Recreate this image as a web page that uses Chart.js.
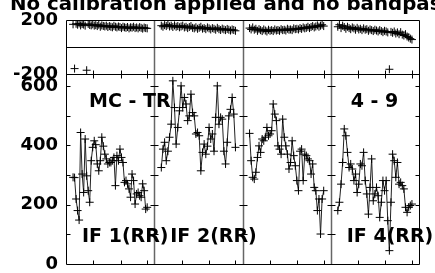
<!DOCTYPE html>
<html><head><meta charset="utf-8">
<script src="https://cdn.jsdelivr.net/npm/chart.js@4/dist/chart.umd.min.js"></script>
<style>html,body{margin:0;padding:0;background:#fff;}canvas{display:block}</style>
</head><body>
<canvas id="c" width="435" height="273"></canvas>
<script>
const titleText = 'No calibration applied and no bandpass';
const baselineLabel = 'MC - TR';
const scanLabel = '4 - 9';
const panelLabels = ['IF 1(RR)', 'IF 2(RR)', '', 'IF 4(RR)'];

const amp1 = [292,291,219,180,148,443,303,241,421,297,247,208,348,393,415,402,337,314,348,427,397,370,354,337,342,342,348,359,264,365,348,387,359,342,275,281,270,253,225,303,281,202,236,241,230,225,270,247,185,191];
const amp2 = [325,387,410,348,380,427,471,617,527,404,460,516,600,527,561,539,483,499,572,510,499,438,443,432,314,376,404,370,397,460,421,438,380,494,600,471,494,488,380,337,410,499,521,561,505,393];
const amp3 = [440,348,292,286,309,359,398,376,421,415,427,460,432,438,449,539,505,483,398,387,370,488,427,398,370,320,342,415,365,331,281,247,380,387,281,370,365,354,348,303,337,258,247,180,219,101,219,247];
const amp4 = [180,208,269,342,455,432,376,325,337,320,281,303,241,269,337,331,376,281,236,168,258,354,213,236,258,230,157,208,281,247,281,146,45,208,370,348,292,342,269,275,264,253,191,174,191,197,202];

const phase1 = [168,-160,172,165,175,160,170,166,158,-172,171,163,160,168,158,162,155,165,150,160,156,152,158,148,155,150,146,157,150,145,152,148,140,150,146,142,148,138,146,143,150,140,145,138,147,142,136,144,140,138];
const phase2 = [158,150,162,155,165,152,158,148,160,150,155,146,152,158,145,150,140,148,155,142,138,146,135,142,150,136,140,132,145,138,130,140,135,128,142,132,126,136,130,125,134,128,122,130,126,120];
const phase3 = [140,130,145,128,135,120,132,125,118,130,122,115,128,120,125,118,130,122,126,120,132,125,128,122,135,128,130,125,138,132,135,130,140,134,145,138,142,150,140,148,155,145,152,160,150,158,165,155];
const phase4 = [150,165,140,158,148,135,150,140,132,145,138,128,142,130,135,125,138,128,132,120,130,125,118,128,122,115,125,118,110,120,115,108,-165,112,105,115,100,108,95,110,92,85,95,78,70,62,55];

const phaseTicks = [-200, 200];
const ampTicks = [0, 100, 200, 300, 400, 500, 600];
const ampTickLabels = [0, 200, 400, 600];
const xMinorTicks = [0.31, 0.62, 0.92];

const amps = [amp1, amp2, amp3, amp4];
const phases = [phase1, phase2, phase3, phase4];

function toPoints(arr, panel) {
  const n = arr.length;
  return arr.map((v, i) => ({ x: panel + 0.08 + 0.84 * i / (n - 1), y: v }));
}

const lineStyle = {
  borderColor: '#222', borderWidth: 1, pointStyle: 'cross', pointRadius: 4,
  pointBorderColor: '#000', pointBorderWidth: 1, pointBackgroundColor: '#000',
  tension: 0, fill: false
};

const datasets = [];
amps.forEach((a, p) => datasets.push(Object.assign({ data: toPoints(a, p), xAxisID: 'x', yAxisID: 'yAmp' }, lineStyle)));
phases.forEach((a, p) => datasets.push(Object.assign({
  data: toPoints(a, p), xAxisID: 'x', yAxisID: 'yPhase',
  segment: { borderColor: ctx => Math.abs(ctx.p0.parsed.y - ctx.p1.parsed.y) > 180 ? 'rgba(0,0,0,0)' : undefined }
}, lineStyle)));

const tickFont = { family: 'DejaVu Sans', size: 18, weight: 'bold' };

function fitLeft(s) { s.width = 66; s.paddingTop = 0; s.paddingBottom = 0; }

const framePlugin = {
  id: 'frame',
  beforeDatasetsDraw(chart) {
    const ctx = chart.ctx;
    const x = chart.scales.x, yp = chart.scales.yPhase, ya = chart.scales.yAmp;
    const r = v => Math.round(v) + 0.5;
    const L = r(x.getPixelForValue(0)), R = r(x.getPixelForValue(4));
    const T = r(yp.top), M = r(ya.top), B = r(ya.bottom);
    const Z = r(yp.getPixelForValue(0));
    ctx.save();
    ctx.strokeStyle = '#666'; ctx.lineWidth = 1.5;
    for (let p = 1; p < 4; p++) {
      const xp = r(x.getPixelForValue(p));
      ctx.beginPath(); ctx.moveTo(xp, T); ctx.lineTo(xp, B); ctx.stroke();
    }
    ctx.strokeStyle = '#000'; ctx.lineWidth = 1;
    ctx.beginPath();
    ctx.rect(L, T, R - L, B - T);
    ctx.moveTo(L, M); ctx.lineTo(R, M);
    ctx.moveTo(L, Z); ctx.lineTo(R, Z);
    for (let p = 0; p < 4; p++) {
      xMinorTicks.forEach(t => {
        const xp = r(x.getPixelForValue(p + t));
        ctx.moveTo(xp, M); ctx.lineTo(xp, M - 4);
        ctx.moveTo(xp, M); ctx.lineTo(xp, M + 4);
        ctx.moveTo(xp, B); ctx.lineTo(xp, B - 4);
      });
    }
    ampTicks.forEach(v => {
      if (v === 0) return;
      const yv = r(ya.getPixelForValue(v));
      ctx.moveTo(L, yv); ctx.lineTo(L + 4, yv);
      ctx.moveTo(R, yv); ctx.lineTo(R - 4, yv);
      for (let p = 1; p < 4; p++) {
        const xp = r(x.getPixelForValue(p));
        ctx.moveTo(xp - 4, yv); ctx.lineTo(xp + 4, yv);
      }
    });
    ctx.stroke();
    ctx.restore();
  },
  afterDatasetsDraw(chart) {
    const ctx = chart.ctx;
    const x = chart.scales.x, ya = chart.scales.yAmp;
    ctx.save();
    ctx.fillStyle = '#000';
    ctx.textBaseline = 'alphabetic';
    ctx.textAlign = 'left';
    ctx.font = 'bold 19.8px "DejaVu Sans"';
    ctx.fillText(titleText, 10, 10);
    ctx.font = 'bold 19px "DejaVu Sans"';
    const top = ya.top, bot = ya.bottom;
    ctx.fillText(baselineLabel, x.getPixelForValue(0) + 23, top + 33);
    ctx.fillText(scanLabel, x.getPixelForValue(3) + 20, top + 33);
    panelLabels.forEach((lab, p) => {
      if (lab) ctx.fillText(lab, x.getPixelForValue(p) + 16, bot - 22);
    });
    ctx.restore();
  }
};

new Chart(document.getElementById('c'), {
  type: 'line',
  data: { datasets },
  options: {
    responsive: false, animation: false, devicePixelRatio: 1,
    layout: { padding: { top: 20, right: 16, bottom: 9, left: 0 } },
    plugins: { legend: { display: false }, tooltip: { enabled: false }, title: { display: false } },
    scales: {
      x: { type: 'linear', min: 0, max: 4, display: false },
      yAmp: {
        type: 'linear', position: 'left', stack: 'v', stackWeight: 190, min: 0, max: 640,
        afterBuildTicks: s => { s.ticks = ampTicks.map(v => ({ value: v })); },
        afterFit: fitLeft,
        grid: { display: false, drawTicks: false }, border: { display: false },
        ticks: { font: tickFont, color: '#000', padding: 8, autoSkip: false,
          callback: v => ampTickLabels.includes(v) ? String(v) : '' }
      },
      yPhase: {
        type: 'linear', position: 'left', stack: 'v', stackWeight: 54, min: -200, max: 200,
        afterBuildTicks: s => { s.ticks = phaseTicks.map(v => ({ value: v })); },
        afterFit: fitLeft,
        grid: { display: false, drawTicks: false }, border: { display: false },
        ticks: { font: tickFont, color: '#000', padding: 8, autoSkip: false }
      }
    }
  },
  plugins: [framePlugin]
});
</script>
</body></html>
